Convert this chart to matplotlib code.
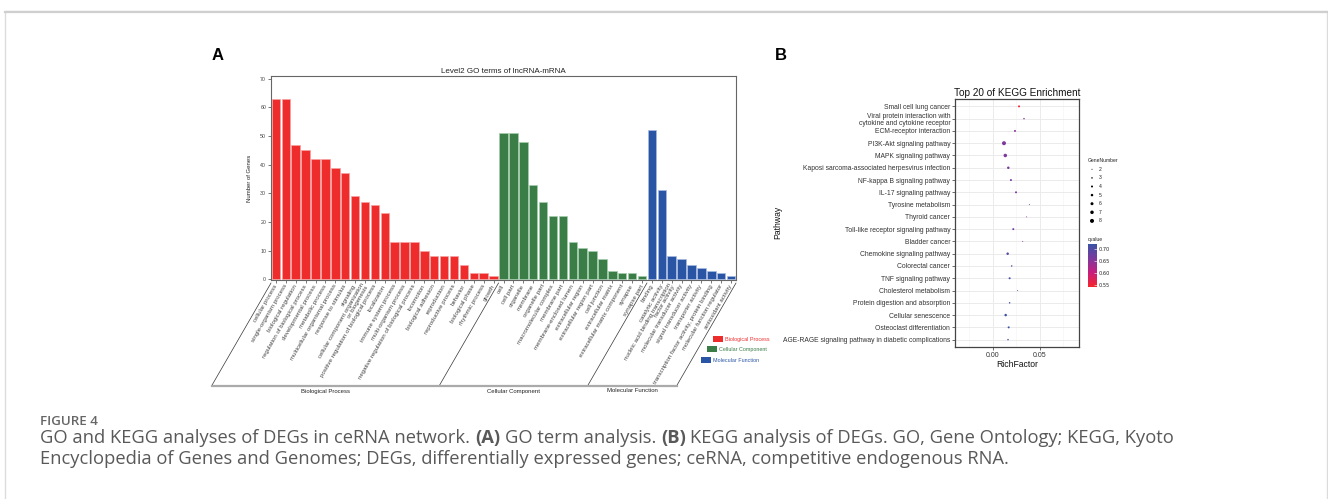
import matplotlib
matplotlib.use('Agg')
import matplotlib.pyplot as plt
import numpy as np
from matplotlib.patches import Rectangle
from matplotlib.lines import Line2D
from matplotlib.colors import LinearSegmentedColormap, Normalize
from matplotlib.cm import ScalarMappable

W, H = 1328, 499

# ---------------- Data: GO (panel A) ----------------
bp_terms = ["cellular process", "single-organism process", "biological regulation",
            "regulation of biological process", "developmental process", "metabolic process",
            "multicellular organismal process", "response to stimulus", "signaling",
            "cellular component organization\nor biogenesis", "positive regulation of biological process",
            "localization", "immune system process", "multi-organism process",
            "negative regulation of biological process", "locomotion", "biological adhesion",
            "reproduction", "reproductive process", "behavior", "biological phase",
            "rhythmic process", "growth"]
bp_counts = [63, 63, 47, 45, 42, 42, 39, 37, 29, 27, 26, 23, 13, 13, 13, 10, 8, 8, 8, 5, 2, 2, 1]

cc_terms = ["cell", "cell part", "organelle", "membrane", "organelle part",
            "macromolecular complex", "membrane part", "membrane-enclosed lumen",
            "extracellular region", "extracellular region part", "cell junction",
            "extracellular matrix", "extracellular matrix component", "synapse", "synapse part"]
cc_counts = [51, 51, 48, 33, 27, 22, 22, 13, 11, 10, 7, 3, 2, 2, 1]

mf_terms = ["binding", "catalytic activity", "nucleic acid binding transcription\nfactor activity",
            "molecular transducer activity", "signal transducer activity", "transporter activity",
            "transcription factor activity, protein binding", "molecular function regulator",
            "antioxidant activity"]
mf_counts = [52, 31, 8, 7, 5, 4, 3, 2, 1]

go_groups = ["Biological Process", "Cellular Component", "Molecular Function"]
go_yticks = [0, 10, 20, 30, 40, 50, 60, 70]

# ---------------- Data: KEGG (panel B) ----------------
kegg_pathways = ["Small cell lung cancer",
                 "Viral protein interaction with\ncytokine and cytokine receptor",
                 "ECM-receptor interaction", "PI3K-Akt signaling pathway",
                 "MAPK signaling pathway", "Kaposi sarcoma-associated herpesvirus infection",
                 "NF-kappa B signaling pathway", "IL-17 signaling pathway",
                 "Tyrosine metabolism", "Thyroid cancer", "Toll-like receptor signaling pathway",
                 "Bladder cancer", "Chemokine signaling pathway", "Colorectal cancer",
                 "TNF signaling pathway", "Cholesterol metabolism",
                 "Protein digestion and absorption", "Cellular senescence",
                 "Osteoclast differentiation",
                 "AGE-RAGE signaling pathway in diabetic complications"]
kegg_richfactor = [0.0277, 0.0330, 0.0234, 0.0117, 0.0131, 0.0163, 0.0191, 0.0245,
                   0.0387, 0.0358, 0.0216, 0.0316, 0.0156, 0.0199, 0.0177, 0.0262,
                   0.0177, 0.0135, 0.0167, 0.0160]
kegg_genenumber = [4, 3, 4, 8, 7, 5, 4, 4, 2, 2, 4, 2, 5, 3, 4, 2, 3, 5, 4, 3]
kegg_qvalue = [0.545, 0.660, 0.650, 0.660, 0.660, 0.665, 0.670, 0.660, 0.670, 0.660,
               0.670, 0.670, 0.690, 0.700, 0.710, 0.680, 0.710, 0.720, 0.720, 0.720]
gene_number_levels = [2, 3, 4, 5, 6, 7, 8]
qvalue_ticks = [0.55, 0.60, 0.65, 0.70]
richfactor_ticks = [0.00, 0.05]

# ---------------- Styling ----------------
RED, GREEN, BLUE = '#EE2C2C', '#3A7D47', '#2A55A5'
RED_E, GREEN_E, BLUE_E = '#F7A3A3', '#A6CDAE', '#A9BCE3'
PF = ['Liberation Sans', 'DejaVu Sans']
CF = ['Open Sans', 'DejaVu Sans']
CAP_COLOR = '#595959'

def fx(x):
    return x / W

def fy(y):
    return 1 - y / H

fig = plt.figure(figsize=(W / 100, H / 100), dpi=100)
fig.patch.set_facecolor('white')

# overlay axes in pixel coordinates for annotations
ov = fig.add_axes([0, 0, 1, 1])
ov.set_xlim(0, W)
ov.set_ylim(H, 0)
ov.axis('off')

# page frame
ov.add_patch(Rectangle((5, 11), 1322, 520, fill=False, edgecolor='#dcdcdc', lw=1.0))
ov.plot([5, 1327], [11.5, 11.5], color='#cfcfcf', lw=1.6)

# ---------------- Panel A ----------------
terms = bp_terms + cc_terms + mf_terms
counts = bp_counts + cc_counts + mf_counts
colors = [RED] * len(bp_terms) + [GREEN] * len(cc_terms) + [BLUE] * len(mf_terms)
ecolors = [RED_E] * len(bp_terms) + [GREEN_E] * len(cc_terms) + [BLUE_E] * len(mf_terms)
n = len(terms)
xa = np.arange(n)

axA = fig.add_axes([fx(271), fy(280), (736 - 271) / W, (280 - 76) / H])
axA.bar(xa, counts, width=0.86, color=colors, edgecolor=ecolors, linewidth=0.5)
axA.set_xlim(-0.5, n - 0.5)
axA.set_ylim(-0.3, 71)
axA.set_yticks(go_yticks)
axA.set_yticklabels([str(v) for v in go_yticks], fontsize=3.8, family=PF, color='#333333')
axA.set_xticks(xa)
axA.set_xticklabels(terms, rotation=60, ha='right', va='center', rotation_mode='anchor',
                    fontsize=4.45, family=PF, color='#222222', linespacing=1.0)
axA.tick_params(axis='both', length=2, width=0.5, pad=1.5, colors='#444444')
for sp in axA.spines.values():
    sp.set_color('#666666')
    sp.set_linewidth(0.8)
axA.set_ylabel('Number of Genes', fontsize=4.3, family=PF, color='#222222', labelpad=6)
axA.set_title('Level2 GO terms of lncRNA-mRNA', fontsize=5.8, family=PF, color='#222222', pad=2.5)

# group brackets
top_y, bot_y = 283, 385
dx = -(bot_y - top_y) / np.tan(np.deg2rad(60))
bounds = [-0.5, len(bp_terms) - 0.5, len(bp_terms) + len(cc_terms) - 0.5, n - 0.5]
bpx = [axA.transData.transform((b, 0))[0] * W / fig.bbox.width for b in bounds]
for xb in bpx:
    ov.plot([xb, xb + dx], [top_y, bot_y], color='#333333', lw=0.5)
ov.plot([bpx[0] + dx, bpx[-1] + dx], [bot_y + 0.5, bot_y + 0.5], color='#AAAAAA', lw=1.6)
for i, g in enumerate(go_groups):
    cx = (bpx[i] + bpx[i + 1]) / 2 + dx
    ov.text(cx, 391, g, fontsize=4.3, family=PF, color='#222222', ha='center', va='center')

# legend A
leg_items = [(713, 339, RED, 'Biological Process'), (707, 349, GREEN, 'Cellular Component'),
             (701, 360, BLUE, 'Molecular Function')]
for (lx, ly, c, t) in leg_items:
    ov.add_patch(Rectangle((lx, ly - 3), 10, 6, facecolor=c, edgecolor='none'))
    ov.text(lx + 12, ly, t, fontsize=3.9, family=PF, color=c, ha='left', va='center')

ov.text(218, 55, 'A', fontsize=12, fontweight='bold', family=PF, ha='center', va='center')
ov.text(781, 55, 'B', fontsize=12, fontweight='bold', family=PF, ha='center', va='center')

# ---------------- Panel B ----------------
cmap = LinearSegmentedColormap.from_list('rq', ['#F5262B', '#C81E7E', '#7B3A9E', '#3A53A4'])
norm = Normalize(0.542, 0.722)

def gsize(g):
    d_px = 1.0 + (np.asarray(g) - 2) * 0.5
    return (0.72 * d_px) ** 2

nk = len(kegg_pathways)
yk = np.arange(nk, 0, -1)
axB = fig.add_axes([fx(955), fy(347), (1079 - 955) / W, (347 - 99) / H])
axB.set_axisbelow(True)
axB.scatter(kegg_richfactor, yk, s=gsize(kegg_genenumber), c=kegg_qvalue, cmap=cmap,
            norm=norm, linewidths=0, zorder=3)
axB.set_xlim(-0.0404, 0.0915)
axB.set_ylim(0.4, nk + 0.6)
axB.set_yticks(yk)
axB.set_yticklabels(kegg_pathways, fontsize=4.9, family=PF, color='#1a1a1a', linespacing=1.0)
axB.set_xticks(richfactor_ticks)
axB.set_xticklabels(['%.2f' % v for v in richfactor_ticks], fontsize=5.0, family=PF, color='#333333')
axB.set_xticks([-0.025, 0.025, 0.075], minor=True)
axB.tick_params(axis='both', which='major', length=2, width=0.5, pad=1.5, colors='#333333')
axB.tick_params(axis='x', which='minor', length=0)
axB.grid(which='major', color='#EBEBEB', lw=0.7)
axB.grid(which='minor', axis='x', color='#F3F3F3', lw=0.4)
for sp in axB.spines.values():
    sp.set_color('#444444')
    sp.set_linewidth(0.9)
axB.set_title('Top 20 of KEGG Enrichment', fontsize=7.2, family=PF, color='#111111', pad=2)
axB.set_xlabel('RichFactor', fontsize=6.2, family=PF, color='#111111', labelpad=1)
ov.text(778, 222, 'Pathway', fontsize=6.2, family=PF, color='#111111', rotation=90,
        ha='center', va='center')

# GeneNumber legend
ov.text(1088, 160, 'GeneNumber', fontsize=3.6, family=PF, color='#222222', ha='left', va='center')
ly = 169.3 + 8.6 * np.arange(len(gene_number_levels))
ov.scatter(np.full(len(gene_number_levels), 1092.0), ly, s=gsize(gene_number_levels),
           color='black', linewidths=0)
for yy, g in zip(ly, gene_number_levels):
    ov.text(1099, yy, str(g), fontsize=3.6, family=PF, color='#222222', ha='left', va='center')

# qvalue colorbar
ov.text(1088, 239.5, 'qvalue', fontsize=3.6, family=PF, color='#222222', ha='left', va='center')
cax = fig.add_axes([fx(1088), fy(287), 9 / W, 43 / H])
cb = fig.colorbar(ScalarMappable(norm=norm, cmap=cmap), cax=cax)
cb.set_ticks(qvalue_ticks)
cb.set_ticklabels(['%.2f' % v for v in qvalue_ticks])
cb.outline.set_visible(False)
cax.tick_params(length=2, width=0.4, color='white', direction='in', pad=1.5, labelsize=3.6,
                labelcolor='#222222')

# ---------------- Caption ----------------
ov.text(40, 425, 'FIGURE 4', fontsize=9.6, fontweight='semibold', family=CF, color='#666666',
        ha='left', va='baseline')

renderer = fig.canvas.get_renderer()

def text_width(s, weight='normal', size=10.5):
    t = ov.text(0, 0, s, fontsize=size, fontweight=weight, family=CF)
    w = t.get_window_extent(renderer=renderer).width
    t.remove()
    return w * W / fig.bbox.width

CAP_SIZE = 13.2
space_w = text_width('x x', size=CAP_SIZE) - text_width('xx', size=CAP_SIZE)

def draw_runs(x, y, runs):
    for s, wt in runs:
        if s == ' ':
            x += space_w
            continue
        ov.text(x, y, s, fontsize=CAP_SIZE, fontweight=wt, family=CF, color=CAP_COLOR,
                ha='left', va='baseline')
        x += text_width(s, wt, CAP_SIZE)

draw_runs(40, 443, [("GO and KEGG analyses of DEGs in ceRNA network.", 'normal'), (' ', None),
                    ("(A)", 'bold'), (' ', None), ("GO term analysis.", 'normal'), (' ', None),
                    ("(B)", 'bold'), (' ', None),
                    ("KEGG analysis of DEGs. GO, Gene Ontology; KEGG, Kyoto", 'normal')])
draw_runs(40, 464, [("Encyclopedia of Genes and Genomes; DEGs, differentially expressed genes; "
                     "ceRNA, competitive endogenous RNA.", 'normal')])

fig.savefig('out.png', dpi=100, facecolor='white')
